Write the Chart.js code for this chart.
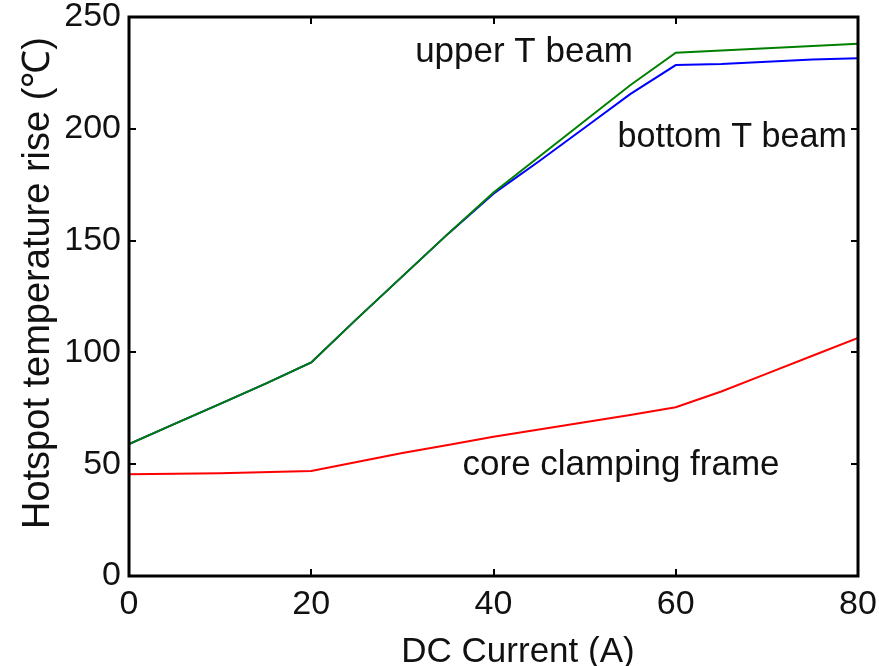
<!DOCTYPE html>
<html>
<head>
<meta charset="utf-8">
<script src="https://cdn.jsdelivr.net/npm/chart.js@4"></script>
<style>
  body { margin: 0; background: #fff; }
  canvas { display: block; }
</style>
</head>
<body>
<canvas id="chart" width="879" height="666"></canvas>
<script>
// x values (DC current, A) for each series
const upperX = [0, 5, 10, 15, 20, 25, 30, 35, 40, 45, 50, 55, 60, 65, 70, 75, 80];
const upperY = [59, 68, 77, 86, 95.5, 115, 134, 153, 171.5, 187.5, 203.5, 219.5, 234, 235, 236, 237, 238];

const bottomX = [0, 5, 10, 15, 20, 25, 30, 35, 40, 45, 50, 55, 60, 65, 70, 75, 80];
const bottomY = [59, 68, 77, 86, 95.5, 115, 134, 153, 171, 185.5, 200.5, 215.5, 228.5, 229, 230, 231, 231.5];

const coreX = [0, 10, 20, 25, 30, 35, 40, 45, 50, 55, 60, 65, 70, 75, 80];
const coreY = [45.5, 46, 47, 51, 55, 58.6, 62.3, 65.5, 68.8, 72, 75.5, 82.5, 90.5, 98.5, 106.5];

const xTicks = [0, 20, 40, 60, 80];
const yTicks = [0, 50, 100, 150, 200, 250];

// in-plot text labels (left edge / baseline, in data units)
const labelTexts = ["upper T beam", "bottom T beam", "core clamping frame"];
const labelX = [31.4, 53.6, 36.6];
const labelY = [229.9, 191.9, 45.2];

const font = '"Liberation Sans", Arial, sans-serif';
const ink = "#111";

function toPoints(xs, ys) {
  return xs.map((x, i) => ({ x: x, y: ys[i] }));
}

const frame = {
  id: "frame",
  afterDraw(chart) {
    const ctx = chart.ctx;
    const a = chart.chartArea;
    const xs = chart.scales.x;
    const ys = chart.scales.y;
    ctx.save();
    ctx.strokeStyle = "#000";
    ctx.lineWidth = 3;
    ctx.strokeRect(a.left, a.top, a.right - a.left, a.bottom - a.top);

    // inward tick marks on all four sides
    ctx.lineWidth = 2;
    ctx.beginPath();
    xTicks.slice(1, -1).forEach(v => {
      const px = Math.round(xs.getPixelForValue(v));
      ctx.moveTo(px, a.bottom);
      ctx.lineTo(px, a.bottom - 7);
      ctx.moveTo(px, a.top);
      ctx.lineTo(px, a.top + 7);
    });
    yTicks.slice(1, -1).forEach(v => {
      const py = Math.round(ys.getPixelForValue(v));
      ctx.moveTo(a.left, py);
      ctx.lineTo(a.left + 7, py);
      ctx.moveTo(a.right, py);
      ctx.lineTo(a.right - 7, py);
    });
    ctx.stroke();

    // labels inside the plot (kept clear of the right border)
    ctx.fillStyle = ink;
    ctx.font = "35px " + font;
    ctx.textBaseline = "alphabetic";
    ctx.textAlign = "left";
    labelTexts.forEach((t, i) => {
      const lx = xs.getPixelForValue(labelX[i]);
      ctx.fillText(t, lx, ys.getPixelForValue(labelY[i]), a.right - 11 - lx);
    });

    // axis titles
    ctx.textAlign = "center";
    ctx.fillText("DC Current (A)", 518, 662);
    ctx.font = "38px " + font;
    ctx.translate(49, 283);
    ctx.rotate(-Math.PI / 2);
    ctx.fillText("Hotspot temperature rise (℃)", 0, 0);
    ctx.restore();
  }
};

new Chart(document.getElementById("chart"), {
  type: "line",
  data: {
    datasets: [
      {
        label: "upper T beam",
        data: toPoints(upperX, upperY),
        borderColor: "rgb(0,128,0)",
        borderWidth: 2,
        pointRadius: 0,
        tension: 0,
        order: 1
      },
      {
        label: "bottom T beam",
        data: toPoints(bottomX, bottomY),
        borderColor: "rgb(0,0,255)",
        borderWidth: 2,
        pointRadius: 0,
        tension: 0,
        order: 2
      },
      {
        label: "core clamping frame",
        data: toPoints(coreX, coreY),
        borderColor: "rgb(255,0,0)",
        borderWidth: 2,
        pointRadius: 0,
        tension: 0
      }
    ]
  },
  options: {
    responsive: false,
    animation: false,
    devicePixelRatio: 1,
    layout: { padding: { left: 0, top: 17, right: 21, bottom: 0 } },
    plugins: { legend: { display: false }, tooltip: { enabled: false } },
    scales: {
      x: {
        type: "linear",
        min: 0,
        max: 80,
        afterBuildTicks: s => { s.ticks = xTicks.map(v => ({ value: v })); },
        afterFit: s => { s.height = 90; s.paddingLeft = 0; s.paddingRight = 0; },
        grid: { display: false, drawTicks: false },
        border: { display: false },
        ticks: { color: ink, font: { family: font, size: 34 }, padding: 8, maxRotation: 0 }
      },
      y: {
        type: "linear",
        min: 0,
        max: 250,
        afterBuildTicks: s => { s.ticks = yTicks.map(v => ({ value: v })); },
        afterFit: s => { s.width = 129; s.paddingTop = 0; s.paddingBottom = 0; },
        grid: { display: false, drawTicks: false },
        border: { display: false },
        ticks: { color: ink, font: { family: font, size: 34 }, padding: 8 }
      }
    }
  },
  plugins: [frame]
});
</script>
</body>
</html>
